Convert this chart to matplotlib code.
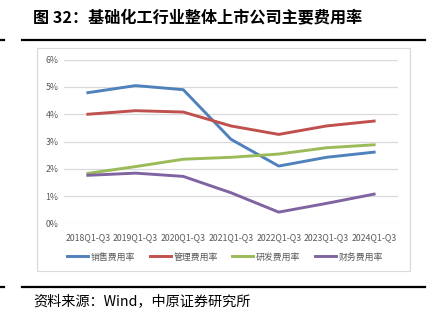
import numpy as np
import matplotlib
matplotlib.use('Agg')
from matplotlib import pyplot as plt
from matplotlib.lines import Line2D
from matplotlib.patches import Rectangle

plt.rcParams['font.family'] = ['Noto Sans CJK SC', 'DejaVu Sans']

periods = ['2018Q1-Q3', '2019Q1-Q3', '2020Q1-Q3', '2021Q1-Q3',
           '2022Q1-Q3', '2023Q1-Q3', '2024Q1-Q3']
sales = [4.79, 5.05, 4.90, 3.08, 2.10, 2.42, 2.61]
admin = [4.00, 4.13, 4.08, 3.57, 3.26, 3.57, 3.75]
rnd = [1.83, 2.08, 2.35, 2.42, 2.54, 2.77, 2.88]
finance = [1.76, 1.84, 1.72, 1.12, 0.41, 0.73, 1.07]
series_names = ['销售费用率', '管理费用率', '研发费用率', '财务费用率']
yticks = [0, 1, 2, 3, 4, 5, 6]

W, H = 435, 327
fig = plt.figure(figsize=(W / 100, H / 100), dpi=100)

def fx(px):
    return px / W

def fy(py):
    return 1 - py / H

# header / footer rules
for y in (39.5, 286.5):
    fig.add_artist(Line2D([fx(22), fx(425)], [fy(y), fy(y)], color='black', lw=1.6))
    fig.add_artist(Line2D([fx(0), fx(4)], [fy(y), fy(y)], color='black', lw=1.6))

fig.text(fx(33), fy(18), '图 32：基础化工行业整体上市公司主要费用率',
         fontsize=11.6, fontweight='bold', va='center', ha='left')
fig.text(fx(33), fy(301), '资料来源：Wind，中原证券研究所',
         fontsize=10.2, va='center', ha='left')

# chart frame
fig.add_artist(Rectangle((fx(37), fy(271)), fx(410) - fx(37), fy(48) - fy(271),
                         fill=False, edgecolor='#D9D9D9', lw=0.8))

ax = fig.add_axes([fx(64), fy(223.3), fx(398) - fx(64), fy(59.7) - fy(223.3)])
x = np.arange(len(periods))
colors = ['#4F81BD', '#C0504D', '#9BBB59', '#8064A2']
for vals, c, name in zip([sales, admin, rnd, finance], colors, series_names):
    ax.plot(x, vals, color=c, lw=2.1, label=name)

ax.set_xlim(-0.5, 6.5)
ax.set_ylim(0, 6)
ax.set_yticks(yticks)
ax.set_yticklabels(['%d%%' % v for v in yticks])
ax.set_xticks(x)
ax.set_xticklabels(periods)
ax.tick_params(length=0, labelsize=6.3, labelcolor='#595959', pad=4)
ax.tick_params(axis='x', pad=7)
for s in ax.spines.values():
    s.set_visible(False)
ax.grid(axis='y', color='#D9D9D9', lw=0.9)
ax.set_axisbelow(True)
ax.patch.set_alpha(0)

fig.legend(loc='center', bbox_to_anchor=(fx(225), fy(257)), ncol=4, frameon=False,
           fontsize=6.4, handlelength=2.4, handletextpad=0.3, columnspacing=1.6,
           labelcolor='#595959')

fig.savefig('out.png', dpi=100)
